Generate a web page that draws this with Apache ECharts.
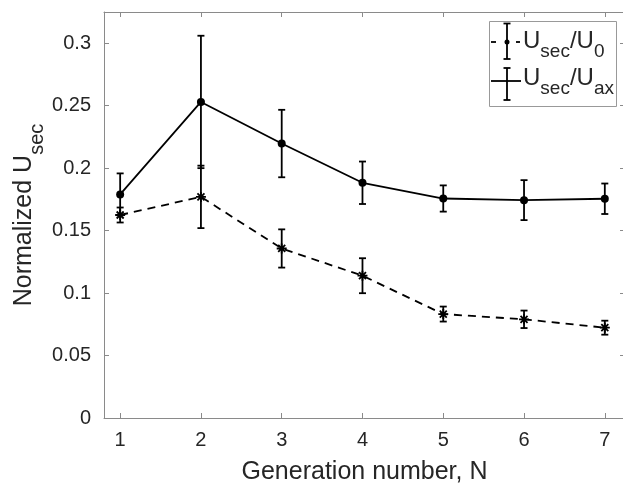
<!DOCTYPE html>
<html lang="en">
<head>
    <meta charset="UTF-8">
    <title>Normalized U_sec vs generation number</title>
    <script src="https://cdn.jsdelivr.net/npm/echarts/dist/echarts.min.js"></script>
    <style>
        html, body { margin: 0; padding: 0; background: #fff; }
        #chart { width: 623px; height: 483px; }
    </style>
</head>
<body>
    <div id="chart"></div>

    <script>
        // values
        var generation = [1, 2, 3, 4, 5, 6, 7];
        var ratioU0 = [0.1625, 0.177, 0.1357, 0.1139, 0.0832, 0.079, 0.0723];
        var errU0 = [0.006, 0.025, 0.0153, 0.014, 0.006, 0.007, 0.0056];
        var ratioUax = [0.179, 0.253, 0.2197, 0.1883, 0.1757, 0.1744, 0.1755];
        var errUax = [0.0168, 0.053, 0.027, 0.017, 0.0105, 0.016, 0.0122];
        var xTicks = [1, 2, 3, 4, 5, 6, 7];
        var yTicks = [0, 0.05, 0.1, 0.15, 0.2, 0.25, 0.3];

        var FONT = 'Liberation Sans, Arial, sans-serif';
        var TEXT = '#262626';
        var AXIS = '#8a8a8a';

        function pairs(ys) {
            return generation.map(function (x, i) { return [x, ys[i]]; });
        }
        function bars(ys, errs) {
            return generation.map(function (x, i) { return [x, ys[i] - errs[i], ys[i] + errs[i]]; });
        }

        function renderErr(params, api) {
            var lo = api.coord([api.value(0), api.value(1)]);
            var hi = api.coord([api.value(0), api.value(2)]);
            var cap = 3.5;
            var st = { stroke: '#000', lineWidth: 1.8 };
            return {
                type: 'group',
                children: [
                    { type: 'line', shape: { x1: lo[0], y1: lo[1], x2: hi[0], y2: hi[1] }, style: st },
                    { type: 'line', shape: { x1: lo[0] - cap, y1: lo[1], x2: lo[0] + cap, y2: lo[1] }, style: st },
                    { type: 'line', shape: { x1: hi[0] - cap, y1: hi[1], x2: hi[0] + cap, y2: hi[1] }, style: st }
                ]
            };
        }

        var subRich = {
            m: { fontSize: 25, lineHeight: 46, color: TEXT, fontFamily: FONT, verticalAlign: 'middle' },
            s: { fontSize: 20, color: TEXT, fontFamily: FONT, verticalAlign: 'bottom' }
        };
        var legRich = {
            m: { fontSize: 24, lineHeight: 40, fill: TEXT, fontFamily: FONT, verticalAlign: 'middle' },
            s: { fontSize: 19, fill: TEXT, fontFamily: FONT, verticalAlign: 'bottom' }
        };

        var axisCommon = {
            axisLine: { show: true, onZero: false, lineStyle: { color: AXIS, width: 1 } },
            axisTick: { show: true, inside: true, length: 5, lineStyle: { color: AXIS } },
            splitLine: { show: false }
        };

        var chart = echarts.init(document.getElementById('chart'));
        var option = {
            animation: false,
            backgroundColor: '#fff',
            grid: { left: 104, top: 12, width: 521, height: 406, outerBoundsMode: 'none', containLabel: false },
            xAxis: [
                Object.assign({
                    type: 'value', min: 0.8, max: 7.25, position: 'bottom',
                    name: 'Generation number, N', nameLocation: 'middle', nameGap: 42, nameMoveOverlap: false,
                    nameTextStyle: { fontSize: 25, color: TEXT, fontFamily: FONT },
                    axisLabel: { customValues: xTicks, fontSize: 20, color: TEXT, fontFamily: FONT, margin: 12 }
                }, axisCommon, { axisTick: Object.assign({ customValues: xTicks }, axisCommon.axisTick) }),
                Object.assign({
                    type: 'value', min: 0.8, max: 7.25, position: 'top',
                    axisLabel: { show: false }
                }, axisCommon, { axisTick: Object.assign({ customValues: xTicks }, axisCommon.axisTick) })
            ],
            yAxis: [
                Object.assign({
                    type: 'value', min: 0, max: 0.325, position: 'left',
                    name: '{m|Normalized U}{s|sec}', nameLocation: 'middle', nameGap: 57, nameMoveOverlap: false,
                    nameTextStyle: { rich: subRich },
                    axisLabel: { customValues: yTicks, fontSize: 20, color: TEXT, fontFamily: FONT, margin: 13 }
                }, axisCommon, { axisTick: Object.assign({ customValues: yTicks }, axisCommon.axisTick) }),
                Object.assign({
                    type: 'value', min: 0, max: 0.325, position: 'right',
                    axisLabel: { show: false }
                }, axisCommon, { axisTick: Object.assign({ customValues: yTicks }, axisCommon.axisTick) })
            ],
            series: [
                {
                    name: 'Usec/U0', type: 'line', data: pairs(ratioU0),
                    symbol: 'path://M0 5L10 5M5 0L5 10M1.5 1.5L8.5 8.5M8.5 1.5L1.5 8.5',
                    symbolSize: 10,
                    itemStyle: { color: '#000', borderColor: '#000', borderWidth: 1.8 },
                    lineStyle: { color: '#000', width: 1.8, type: [8, 6] },
                    z: 3
                },
                {
                    name: 'Usec/Uax', type: 'line', data: pairs(ratioUax),
                    symbol: 'circle', symbolSize: 8,
                    itemStyle: { color: '#000' },
                    lineStyle: { color: '#000', width: 1.8 },
                    z: 3
                },
                { type: 'custom', renderItem: renderErr, data: bars(ratioU0, errU0), z: 2 },
                { type: 'custom', renderItem: renderErr, data: bars(ratioUax, errUax), z: 2 }
            ],
            graphic: [
                { type: 'rect', shape: { x: 489.5, y: 21.5, width: 127, height: 85 },
                  style: { fill: '#fff', stroke: '#999', lineWidth: 1 }, z: 10 },
                // legend entry 1: dashed line, error bar, dot
                { type: 'line', shape: { x1: 491, y1: 42, x2: 496, y2: 42 }, style: { stroke: '#000', lineWidth: 1.8 }, z: 11 },
                { type: 'line', shape: { x1: 516, y1: 42, x2: 520, y2: 42 }, style: { stroke: '#000', lineWidth: 1.8 }, z: 11 },
                { type: 'line', shape: { x1: 507, y1: 23.5, x2: 507, y2: 59 }, style: { stroke: '#000', lineWidth: 1.8 }, z: 11 },
                { type: 'line', shape: { x1: 503.5, y1: 23.5, x2: 510.5, y2: 23.5 }, style: { stroke: '#000', lineWidth: 1.8 }, z: 11 },
                { type: 'line', shape: { x1: 503.5, y1: 59, x2: 510.5, y2: 59 }, style: { stroke: '#000', lineWidth: 1.8 }, z: 11 },
                { type: 'circle', shape: { cx: 507, cy: 42, r: 2.5 }, style: { fill: '#000' }, z: 11 },
                { type: 'text', x: 523, y: 41, z: 11,
                  style: { text: '{m|U}{s|sec}{m|/U}{s|0}', rich: legRich, align: 'left', verticalAlign: 'middle' } },
                // legend entry 2: solid line, error bar
                { type: 'line', shape: { x1: 491, y1: 81, x2: 521, y2: 81 }, style: { stroke: '#000', lineWidth: 1.8 }, z: 11 },
                { type: 'line', shape: { x1: 507, y1: 68, x2: 507, y2: 100 }, style: { stroke: '#000', lineWidth: 1.8 }, z: 11 },
                { type: 'line', shape: { x1: 503.5, y1: 68, x2: 510.5, y2: 68 }, style: { stroke: '#000', lineWidth: 1.8 }, z: 11 },
                { type: 'line', shape: { x1: 503.5, y1: 100, x2: 510.5, y2: 100 }, style: { stroke: '#000', lineWidth: 1.8 }, z: 11 },
                { type: 'text', x: 523, y: 78, z: 11,
                  style: { text: '{m|U}{s|sec}{m|/U}{s|ax}', rich: legRich, align: 'left', verticalAlign: 'middle' } }
            ]
        };
        chart.setOption(option);
    </script>
</body>
</html>
